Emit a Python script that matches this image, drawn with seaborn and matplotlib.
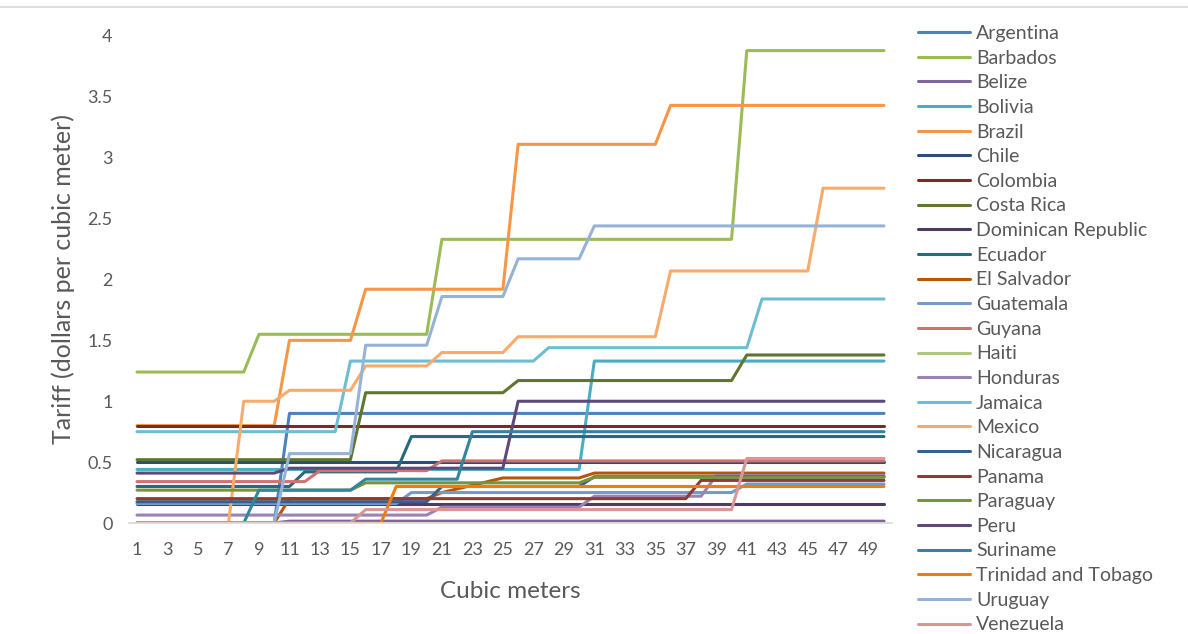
import numpy as np
import pandas as pd
import matplotlib
matplotlib.use("Agg")
import matplotlib.pyplot as plt
from matplotlib.lines import Line2D
import seaborn as sns

cubic_meters = list(range(1, 51))
x_tick_labels = [str(v) for v in range(1, 50, 2)]
y_ticks = [0, 0.5, 1, 1.5, 2, 2.5, 3, 3.5, 4]
y_tick_labels = ["0", "0.5", "1", "1.5", "2", "2.5", "3", "3.5", "4"]

countries = ["Argentina", "Barbados", "Belize", "Bolivia", "Brazil", "Chile",
             "Colombia", "Costa Rica", "Dominican Republic", "Ecuador",
             "El Salvador", "Guatemala", "Guyana", "Haiti", "Honduras",
             "Jamaica", "Mexico", "Nicaragua", "Panama", "Paraguay", "Peru",
             "Suriname", "Trinidad and Tobago", "Uruguay", "Venezuela"]

argentina = [0, 0, 0, 0, 0, 0, 0, 0, 0, 0,
             0.9, 0.9, 0.9, 0.9, 0.9, 0.9, 0.9, 0.9, 0.9, 0.9,
             0.9, 0.9, 0.9, 0.9, 0.9, 0.9, 0.9, 0.9, 0.9, 0.9,
             0.9, 0.9, 0.9, 0.9, 0.9, 0.9, 0.9, 0.9, 0.9, 0.9,
             0.9, 0.9, 0.9, 0.9, 0.9, 0.9, 0.9, 0.9, 0.9, 0.9]
barbados = [1.24, 1.24, 1.24, 1.24, 1.24, 1.24, 1.24, 1.24, 1.55, 1.55,
            1.55, 1.55, 1.55, 1.55, 1.55, 1.55, 1.55, 1.55, 1.55, 1.55,
            2.33, 2.33, 2.33, 2.33, 2.33, 2.33, 2.33, 2.33, 2.33, 2.33,
            2.33, 2.33, 2.33, 2.33, 2.33, 2.33, 2.33, 2.33, 2.33, 2.33,
            3.88, 3.88, 3.88, 3.88, 3.88, 3.88, 3.88, 3.88, 3.88, 3.88]
belize = [0, 0, 0, 0, 0, 0, 0, 0, 0, 0,
          0.015, 0.015, 0.015, 0.015, 0.015, 0.015, 0.015, 0.015, 0.015, 0.015,
          0.015, 0.015, 0.015, 0.015, 0.015, 0.015, 0.015, 0.015, 0.015, 0.015,
          0.015, 0.015, 0.015, 0.015, 0.015, 0.015, 0.015, 0.015, 0.015, 0.015,
          0.015, 0.015, 0.015, 0.015, 0.015, 0.015, 0.015, 0.015, 0.015, 0.015]
bolivia = [0.44, 0.44, 0.44, 0.44, 0.44, 0.44, 0.44, 0.44, 0.44, 0.44,
           0.44, 0.44, 0.44, 0.44, 0.44, 0.44, 0.44, 0.44, 0.44, 0.44,
           0.44, 0.44, 0.44, 0.44, 0.44, 0.44, 0.44, 0.44, 0.44, 0.44,
           1.33, 1.33, 1.33, 1.33, 1.33, 1.33, 1.33, 1.33, 1.33, 1.33,
           1.33, 1.33, 1.33, 1.33, 1.33, 1.33, 1.33, 1.33, 1.33, 1.33]
brazil = [0.8, 0.8, 0.8, 0.8, 0.8, 0.8, 0.8, 0.8, 0.8, 0.8,
          1.5, 1.5, 1.5, 1.5, 1.5, 1.92, 1.92, 1.92, 1.92, 1.92,
          1.92, 1.92, 1.92, 1.92, 1.92, 3.11, 3.11, 3.11, 3.11, 3.11,
          3.11, 3.11, 3.11, 3.11, 3.11, 3.43, 3.43, 3.43, 3.43, 3.43,
          3.43, 3.43, 3.43, 3.43, 3.43, 3.43, 3.43, 3.43, 3.43, 3.43]
chile = [0.5, 0.5, 0.5, 0.5, 0.5, 0.5, 0.5, 0.5, 0.5, 0.5,
         0.5, 0.5, 0.5, 0.5, 0.5, 0.5, 0.5, 0.5, 0.5, 0.5,
         0.5, 0.5, 0.5, 0.5, 0.5, 0.5, 0.5, 0.5, 0.5, 0.5,
         0.5, 0.5, 0.5, 0.5, 0.5, 0.5, 0.5, 0.5, 0.5, 0.5,
         0.5, 0.5, 0.5, 0.5, 0.5, 0.5, 0.5, 0.5, 0.5, 0.5]
colombia = [0.8, 0.8, 0.8, 0.8, 0.8, 0.8, 0.8, 0.8, 0.8, 0.8,
            0.8, 0.8, 0.8, 0.8, 0.8, 0.8, 0.8, 0.8, 0.8, 0.8,
            0.8, 0.8, 0.8, 0.8, 0.8, 0.8, 0.8, 0.8, 0.8, 0.8,
            0.8, 0.8, 0.8, 0.8, 0.8, 0.8, 0.8, 0.8, 0.8, 0.8,
            0.8, 0.8, 0.8, 0.8, 0.8, 0.8, 0.8, 0.8, 0.8, 0.8]
costa_rica = [0.52, 0.52, 0.52, 0.52, 0.52, 0.52, 0.52, 0.52, 0.52, 0.52,
              0.52, 0.52, 0.52, 0.52, 0.52, 1.07, 1.07, 1.07, 1.07, 1.07,
              1.07, 1.07, 1.07, 1.07, 1.07, 1.17, 1.17, 1.17, 1.17, 1.17,
              1.17, 1.17, 1.17, 1.17, 1.17, 1.17, 1.17, 1.17, 1.17, 1.17,
              1.38, 1.38, 1.38, 1.38, 1.38, 1.38, 1.38, 1.38, 1.38, 1.38]
dominican_republic = [0.16, 0.16, 0.16, 0.16, 0.16, 0.16, 0.16, 0.16, 0.16, 0.16,
                      0.16, 0.16, 0.16, 0.16, 0.16, 0.16, 0.16, 0.16, 0.16, 0.16,
                      0.16, 0.16, 0.16, 0.16, 0.16, 0.16, 0.16, 0.16, 0.16, 0.16,
                      0.16, 0.16, 0.16, 0.16, 0.16, 0.16, 0.16, 0.16, 0.16, 0.16,
                      0.16, 0.16, 0.16, 0.16, 0.16, 0.16, 0.16, 0.16, 0.16, 0.16]
ecuador = [0.3, 0.3, 0.3, 0.3, 0.3, 0.3, 0.3, 0.3, 0.3, 0.3,
           0.3, 0.42, 0.42, 0.42, 0.42, 0.42, 0.42, 0.42, 0.71, 0.71,
           0.71, 0.71, 0.71, 0.71, 0.71, 0.71, 0.71, 0.71, 0.71, 0.71,
           0.71, 0.71, 0.71, 0.71, 0.71, 0.71, 0.71, 0.71, 0.71, 0.71,
           0.71, 0.71, 0.71, 0.71, 0.71, 0.71, 0.71, 0.71, 0.71, 0.71]
el_salvador = [0, 0, 0, 0, 0, 0, 0, 0, 0, 0,
               0.2, 0.2, 0.2, 0.2, 0.2, 0.2, 0.2, 0.2, 0.2, 0.2,
               0.25, 0.28, 0.31, 0.34, 0.37, 0.37, 0.37, 0.37, 0.37, 0.37,
               0.41, 0.41, 0.41, 0.41, 0.41, 0.41, 0.41, 0.41, 0.41, 0.41,
               0.41, 0.41, 0.41, 0.41, 0.41, 0.41, 0.41, 0.41, 0.41, 0.41]
guatemala = [0.16, 0.16, 0.16, 0.16, 0.16, 0.16, 0.16, 0.16, 0.16, 0.16,
             0.16, 0.16, 0.16, 0.16, 0.16, 0.16, 0.16, 0.16, 0.25, 0.25,
             0.25, 0.25, 0.25, 0.25, 0.25, 0.25, 0.25, 0.25, 0.25, 0.25,
             0.25, 0.25, 0.25, 0.25, 0.25, 0.25, 0.25, 0.25, 0.25, 0.25,
             0.32, 0.32, 0.32, 0.32, 0.32, 0.32, 0.32, 0.32, 0.32, 0.32]
guyana = [0.34, 0.34, 0.34, 0.34, 0.34, 0.34, 0.34, 0.34, 0.34, 0.34,
          0.34, 0.34, 0.43, 0.43, 0.43, 0.43, 0.43, 0.43, 0.43, 0.43,
          0.51, 0.51, 0.51, 0.51, 0.51, 0.51, 0.51, 0.51, 0.51, 0.51,
          0.51, 0.51, 0.51, 0.51, 0.51, 0.51, 0.51, 0.51, 0.51, 0.51,
          0.51, 0.51, 0.51, 0.51, 0.51, 0.51, 0.51, 0.51, 0.51, 0.51]
haiti = [0, 0, 0, 0, 0, 0, 0, 0, 0, 0,
         0, 0, 0, 0, 0, 0, 0, 0, 0, 0,
         0, 0, 0, 0, 0, 0, 0, 0, 0, 0,
         0, 0, 0, 0, 0, 0, 0, 0, 0, 0,
         0, 0, 0, 0, 0, 0, 0, 0, 0, 0]
honduras = [0.065, 0.065, 0.065, 0.065, 0.065, 0.065, 0.065, 0.065, 0.065, 0.065,
            0.065, 0.065, 0.065, 0.065, 0.065, 0.065, 0.065, 0.065, 0.065, 0.065,
            0.13, 0.13, 0.13, 0.13, 0.13, 0.13, 0.13, 0.13, 0.13, 0.13,
            0.22, 0.22, 0.22, 0.22, 0.22, 0.22, 0.22, 0.22, 0.39, 0.39,
            0.39, 0.39, 0.39, 0.39, 0.39, 0.39, 0.39, 0.39, 0.39, 0.39]
jamaica = [0.75, 0.75, 0.75, 0.75, 0.75, 0.75, 0.75, 0.75, 0.75, 0.75,
           0.75, 0.75, 0.75, 0.75, 1.33, 1.33, 1.33, 1.33, 1.33, 1.33,
           1.33, 1.33, 1.33, 1.33, 1.33, 1.33, 1.33, 1.44, 1.44, 1.44,
           1.44, 1.44, 1.44, 1.44, 1.44, 1.44, 1.44, 1.44, 1.44, 1.44,
           1.44, 1.84, 1.84, 1.84, 1.84, 1.84, 1.84, 1.84, 1.84, 1.84]
mexico = [0, 0, 0, 0, 0, 0, 0, 1.0, 1.0, 1.0,
          1.09, 1.09, 1.09, 1.09, 1.09, 1.29, 1.29, 1.29, 1.29, 1.29,
          1.4, 1.4, 1.4, 1.4, 1.4, 1.53, 1.53, 1.53, 1.53, 1.53,
          1.53, 1.53, 1.53, 1.53, 1.53, 2.07, 2.07, 2.07, 2.07, 2.07,
          2.07, 2.07, 2.07, 2.07, 2.07, 2.75, 2.75, 2.75, 2.75, 2.75]
nicaragua = [0.175, 0.175, 0.175, 0.175, 0.175, 0.175, 0.175, 0.175, 0.175, 0.175,
             0.175, 0.175, 0.175, 0.175, 0.175, 0.175, 0.175, 0.175, 0.175, 0.175,
             0.3, 0.3, 0.3, 0.3, 0.3, 0.3, 0.3, 0.3, 0.3, 0.3,
             0.38, 0.38, 0.38, 0.38, 0.38, 0.38, 0.38, 0.38, 0.38, 0.38,
             0.38, 0.38, 0.38, 0.38, 0.38, 0.38, 0.38, 0.38, 0.38, 0.38]
panama = [0.2, 0.2, 0.2, 0.2, 0.2, 0.2, 0.2, 0.2, 0.2, 0.2,
          0.2, 0.2, 0.2, 0.2, 0.2, 0.2, 0.2, 0.2, 0.2, 0.2,
          0.2, 0.2, 0.2, 0.2, 0.2, 0.2, 0.2, 0.2, 0.2, 0.2,
          0.2, 0.2, 0.2, 0.2, 0.2, 0.2, 0.2, 0.35, 0.35, 0.35,
          0.35, 0.35, 0.35, 0.35, 0.35, 0.35, 0.35, 0.35, 0.35, 0.35]
paraguay = [0.27, 0.27, 0.27, 0.27, 0.27, 0.27, 0.27, 0.27, 0.27, 0.27,
            0.27, 0.27, 0.27, 0.27, 0.27, 0.33, 0.33, 0.33, 0.33, 0.33,
            0.33, 0.33, 0.33, 0.33, 0.33, 0.33, 0.33, 0.33, 0.33, 0.33,
            0.375, 0.375, 0.375, 0.375, 0.375, 0.375, 0.375, 0.375, 0.375, 0.375,
            0.375, 0.375, 0.375, 0.375, 0.375, 0.375, 0.375, 0.375, 0.375, 0.375]
peru = [0.41, 0.41, 0.41, 0.41, 0.41, 0.41, 0.41, 0.41, 0.41, 0.41,
        0.45, 0.45, 0.45, 0.45, 0.45, 0.45, 0.45, 0.45, 0.45, 0.45,
        0.45, 0.45, 0.45, 0.45, 0.45, 1.0, 1.0, 1.0, 1.0, 1.0,
        1.0, 1.0, 1.0, 1.0, 1.0, 1.0, 1.0, 1.0, 1.0, 1.0,
        1.0, 1.0, 1.0, 1.0, 1.0, 1.0, 1.0, 1.0, 1.0, 1.0]
suriname = [0, 0, 0, 0, 0, 0, 0, 0, 0.27, 0.27,
            0.27, 0.27, 0.27, 0.27, 0.27, 0.36, 0.36, 0.36, 0.36, 0.36,
            0.36, 0.36, 0.75, 0.75, 0.75, 0.75, 0.75, 0.75, 0.75, 0.75,
            0.75, 0.75, 0.75, 0.75, 0.75, 0.75, 0.75, 0.75, 0.75, 0.75,
            0.75, 0.75, 0.75, 0.75, 0.75, 0.75, 0.75, 0.75, 0.75, 0.75]
trinidad_and_tobago = [0, 0, 0, 0, 0, 0, 0, 0, 0, 0,
                       0, 0, 0, 0, 0, 0, 0, 0.3, 0.3, 0.3,
                       0.3, 0.3, 0.3, 0.3, 0.3, 0.3, 0.3, 0.3, 0.3, 0.3,
                       0.3, 0.3, 0.3, 0.3, 0.3, 0.3, 0.3, 0.3, 0.3, 0.3,
                       0.3, 0.3, 0.3, 0.3, 0.3, 0.3, 0.3, 0.3, 0.3, 0.3]
uruguay = [0, 0, 0, 0, 0, 0, 0, 0, 0, 0,
           0.57, 0.57, 0.57, 0.57, 0.57, 1.46, 1.46, 1.46, 1.46, 1.46,
           1.86, 1.86, 1.86, 1.86, 1.86, 2.17, 2.17, 2.17, 2.17, 2.17,
           2.44, 2.44, 2.44, 2.44, 2.44, 2.44, 2.44, 2.44, 2.44, 2.44,
           2.44, 2.44, 2.44, 2.44, 2.44, 2.44, 2.44, 2.44, 2.44, 2.44]
venezuela = [0, 0, 0, 0, 0, 0, 0, 0, 0, 0,
             0, 0, 0, 0, 0, 0.11, 0.11, 0.11, 0.11, 0.11,
             0.11, 0.11, 0.11, 0.11, 0.11, 0.11, 0.11, 0.11, 0.11, 0.11,
             0.11, 0.11, 0.11, 0.11, 0.11, 0.11, 0.11, 0.11, 0.11, 0.11,
             0.53, 0.53, 0.53, 0.53, 0.53, 0.53, 0.53, 0.53, 0.53, 0.53]

series = [argentina, barbados, belize, bolivia, brazil, chile, colombia,
          costa_rica, dominican_republic, ecuador, el_salvador, guatemala,
          guyana, haiti, honduras, jamaica, mexico, nicaragua, panama,
          paraguay, peru, suriname, trinidad_and_tobago, uruguay, venezuela]

colors = ["#4F81BD", "#9BBB59", "#8064A2", "#4BACC6", "#F79646", "#2C4D75",
          "#772C2A", "#5F7530", "#4D3B62", "#276A7C", "#B65708", "#729ACA",
          "#CD7371", "#AFC97A", "#9983B5", "#6FBDD1", "#F9AB6B", "#3A5F8B",
          "#953735", "#77933C", "#5F497A", "#31859C", "#F47A0E", "#95B3D7",
          "#DA9694"]

sns.set_theme(style="white")
plt.rcParams['font.family'] = ['Lato', 'DejaVu Sans']

df = pd.DataFrame({
    "Cubic meters": np.tile(cubic_meters, len(countries)),
    "Tariff": np.concatenate([np.asarray(s, dtype=float) for s in series]),
    "Country": np.repeat(countries, len(cubic_meters)),
})

W, H = 1188, 634
fig = plt.figure(figsize=(W / 100, H / 100), dpi=100)
fig.patch.set_facecolor("white")
left, right, top, bottom = 129.4, 891.6, 36, 523
ax_w, ax_h = right - left, bottom - top
ax = fig.add_axes([left / W, (H - bottom) / H, ax_w / W, ax_h / H])

sns.lineplot(data=df, x="Cubic meters", y="Tariff", hue="Country",
             hue_order=countries, palette=dict(zip(countries, colors)),
             linewidth=2.2, errorbar=None, ax=ax, legend=True)

ax.set_xlim(0.5, 50.5)
ax.set_ylim(0, 4)
ax.set_xticks(list(range(1, 50, 2)))
ax.set_xticklabels(x_tick_labels)
ax.set_yticks(y_ticks)
ax.set_yticklabels(y_tick_labels)
ax.tick_params(axis="both", length=0, labelsize=13, colors="#595959")
ax.tick_params(axis="x", pad=14)
ax.tick_params(axis="y", pad=12)
for s in ["top", "right", "left"]:
    ax.spines[s].set_visible(False)
ax.spines["bottom"].set_color("#D9D9D9")
ax.spines["bottom"].set_linewidth(1.2)
ax.grid(False)
ax.set_xlabel("Cubic meters", fontsize=17.5, color="#595959")
ax.set_ylabel("Tariff (dollars per cubic meter)", fontsize=18, color="#595959")
ax.yaxis.set_label_coords((75 - left) / ax_w, 0.5)
ax.xaxis.set_label_coords(0.5, -(581 - bottom) / ax_h)

leg = ax.get_legend()
handles = leg.legend_handles
labels = [t.get_text() for t in leg.get_texts()]
leg.remove()
for hnd in handles:
    hnd.set_linewidth(2.2)
fig.legend(handles, labels, loc="upper left", bbox_to_anchor=(918 / W, 1 - 25 / H),
           frameon=False, fontsize=14, labelcolor="#595959", handlelength=2.68,
           handletextpad=0.3, labelspacing=0.393, borderpad=0, borderaxespad=0)

fig.add_artist(Line2D([0, 1], [1 - 7 / H, 1 - 7 / H], transform=fig.transFigure,
                      color="#D9D9D9", linewidth=1.2))

fig.savefig("out.png", dpi=100, facecolor="white")
